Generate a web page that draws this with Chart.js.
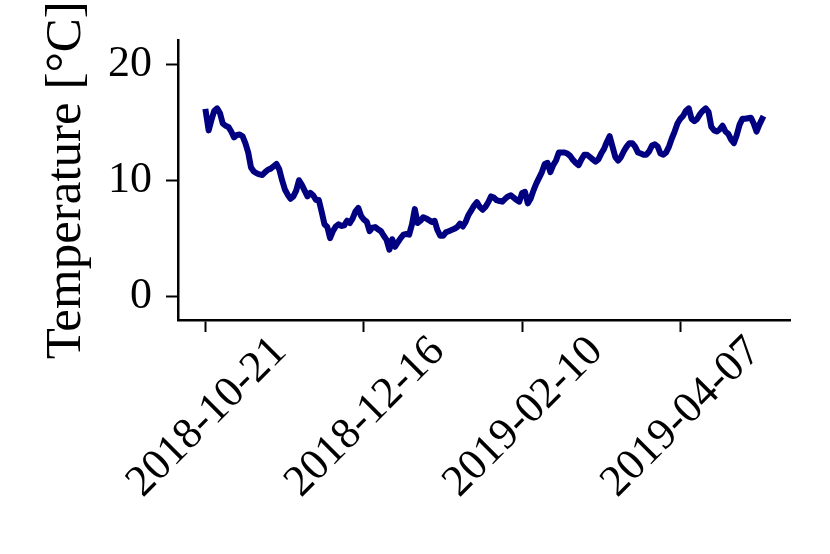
<!DOCTYPE html>
<html>
<head>
<meta charset="utf-8">
<script src="https://cdn.jsdelivr.net/npm/chart.js@4/dist/chart.umd.min.js"></script>
<style>
    body { margin: 0; background: #fff; }
    canvas { display: block; }
</style>
</head>
<body>
<canvas id="chart" width="830" height="554"></canvas>
<script>
// Daily mean temperature, one value per day starting at startDate
const startDate = '2018-10-21';
const temps = [
    15.9, 14.3, 15.2, 16.0, 16.2, 15.8, 14.9, 14.7, 14.6, 14.2,
    13.7, 13.9, 13.95, 13.8, 13.2, 12.4, 11.1, 10.75, 10.6, 10.5,
    10.45, 10.7, 10.9, 11.0, 11.2, 11.4, 10.95, 10.0, 9.2, 8.75,
    8.4, 8.6, 9.1, 10.0, 9.6, 9.1, 8.6, 8.9, 8.7, 8.3,
    8.3, 7.3, 6.2, 5.97, 5.0, 5.6, 6.0, 6.2, 6.05, 6.1,
    6.5, 6.3, 6.7, 7.3, 7.6, 6.9, 6.6, 6.4, 5.6, 5.9,
    5.95, 5.75, 5.6, 5.2, 4.85, 4.0, 4.9, 4.25, 4.65, 5.0,
    5.3, 5.35, 5.3, 6.2, 7.5, 6.3, 6.5, 6.8, 6.7, 6.55,
    6.4, 6.5, 5.7, 5.2, 5.2, 5.5, 5.6, 5.7, 5.8, 5.95,
    6.25, 6.0, 6.4, 7.0, 7.4, 7.8, 8.1, 7.7, 7.45, 7.7,
    8.1, 8.6, 8.5, 8.27, 8.2, 8.15, 8.4, 8.6, 8.7, 8.5,
    8.3, 8.15, 8.9, 9.0, 8.0, 8.4, 9.1, 9.7, 10.2, 10.7,
    11.4, 11.5, 10.7, 11.3, 11.7, 12.4, 12.4, 12.4, 12.3, 12.1,
    11.75, 11.5, 11.3, 11.8, 12.2, 12.2, 12.0, 11.8, 11.6, 11.8,
    12.3, 12.7, 13.3, 13.8, 12.9, 12.0, 11.7, 12.0, 12.5, 12.9,
    13.2, 13.2, 12.9, 12.4, 12.3, 12.2, 12.2, 12.5, 13.0, 13.1,
    12.9, 12.3, 12.2, 12.4, 12.9, 13.6, 14.2, 14.9, 15.3, 15.55,
    16.0, 16.2, 15.3, 15.1, 15.3, 15.7, 16.0, 16.2, 15.9, 14.6,
    14.3, 14.2, 14.4, 14.7, 14.2, 14.0, 13.5, 13.2, 13.9, 14.8,
    15.3, 15.3, 15.35, 15.4, 14.9, 14.2, 14.8, 15.3
];
const xTickLabels = ['2018-10-21', '2018-12-16', '2019-02-10', '2019-04-07'];
const yTicks = [0, 10, 20];

const DAY = 86400000;
function dayOffset(dateStr) {
    return Math.round((Date.parse(dateStr) - Date.parse(startDate)) / DAY);
}

const points = temps.map((t, i) => ({ x: i, y: t }));
const xTicks = xTickLabels.map(dayOffset);
// matplotlib-style 5% margin on the x range
const xMargin = (temps.length - 1) * 0.05;

const serif = "'Liberation Serif', 'Times New Roman', serif";

new Chart(document.getElementById('chart').getContext('2d'), {
    type: 'line',
    data: {
        datasets: [{
            data: points,
            borderColor: '#000080',
            borderWidth: 6,
            borderCapStyle: 'square',
            borderJoinStyle: 'round',
            pointRadius: 0,
            tension: 0,
            fill: false
        }]
    },
    options: {
        responsive: false,
        animation: false,
        devicePixelRatio: 1,
        layout: { padding: { top: 40, right: 40, left: 0, bottom: 0 } },
        plugins: {
            legend: { display: false },
            tooltip: { enabled: false }
        },
        scales: {
            x: {
                type: 'linear',
                min: -xMargin,
                max: temps.length - 1 + xMargin,
                afterBuildTicks: scale => {
                    scale.ticks = xTicks.map(v => ({ value: v }));
                },
                afterFit: scale => { scale.height = 234; },
                border: { display: true, color: '#000', width: 2.5 },
                grid: {
                    display: true,
                    drawOnChartArea: false,
                    drawTicks: true,
                    tickLength: 12,
                    tickWidth: 2,
                    tickColor: '#000'
                },
                ticks: {
                    autoSkip: false,
                    maxRotation: 45,
                    minRotation: 45,
                    labelOffset: 74,
                    padding: -6,
                    color: '#000',
                    font: { family: serif, size: 44 },
                    callback: value => xTickLabels[xTicks.indexOf(value)]
                }
            },
            y: {
                min: -2.07,
                max: 22.07,
                afterBuildTicks: scale => {
                    scale.ticks = yTicks.map(v => ({ value: v }));
                },
                afterFit: scale => { scale.width = 178; },
                border: { display: true, color: '#000', width: 2.5 },
                grid: {
                    display: true,
                    drawOnChartArea: false,
                    drawTicks: true,
                    tickLength: 12,
                    tickWidth: 2,
                    tickColor: '#000'
                },
                ticks: {
                    padding: 14,
                    color: '#000',
                    font: { family: serif, size: 44 }
                },
                title: {
                    display: true,
                    text: 'Temperature [°C]',
                    color: '#000',
                    font: { family: serif, size: 51 },
                    padding: { top: 36, bottom: 0 }
                }
            }
        }
    }
});
</script>
</body>
</html>
